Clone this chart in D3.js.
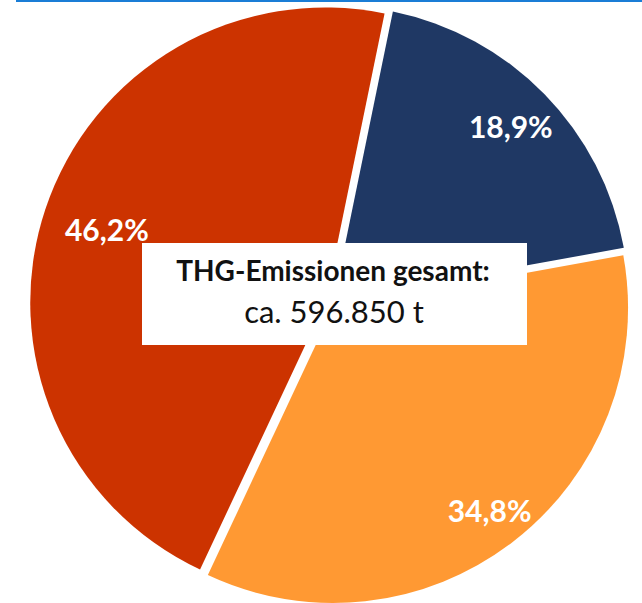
<!DOCTYPE html>
<html>
<head>
<meta charset="utf-8">
<script src="https://cdn.jsdelivr.net/npm/d3@7"></script>
<style>
  body { margin: 0; background: #fff; }
  svg { display: block; }
</style>
</head>
<body>
<svg id="chart" width="642" height="603"></svg>
<script>
// data
var categories = ["Sektor 1", "Sektor 2", "Sektor 3"];
var shares = [18.9, 34.8, 46.2];
var shareLabels = ["18,9%", "34,8%", "46,2%"];
var colors = ["#1f3864", "#ff9933", "#cc3300"];
var totalLines = ["THG-Emissionen gesamt:", "ca. 596.850 t"];

var svg = d3.select("#chart");
var cx = 330, cy = 304, radius = 295, explode = 5;
var labelRadius = [0.84, 0.87, 0.78];

// thin blue rule along the top
svg.append("rect")
    .attr("x", 16).attr("y", 0)
    .attr("width", 626).attr("height", 2)
    .attr("fill", "#1a7dd6");

var pie = d3.pie()
    .sort(null)
    .value(function(d) { return d.value; })
    .startAngle(11.6 * Math.PI / 180)
    .endAngle(11.6 * Math.PI / 180 + 2 * Math.PI);

var arc = d3.arc().innerRadius(0).outerRadius(radius);

var data = categories.map(function(c, i) {
    return { name: c, value: shares[i], label: shareLabels[i], color: colors[i], lr: labelRadius[i] };
});

var g = svg.append("g").attr("transform", "translate(" + cx + "," + cy + ")");

var slices = g.selectAll("g.slice")
    .data(pie(data))
    .enter().append("g")
    .attr("class", "slice")
    .attr("transform", function(d) {
        var mid = (d.startAngle + d.endAngle) / 2;
        return "translate(" + (explode * Math.sin(mid)) + "," + (-explode * Math.cos(mid)) + ")";
    });

slices.append("path")
    .attr("d", arc)
    .attr("fill", function(d) { return d.data.color; });

slices.append("text")
    .attr("transform", function(d) {
        var mid = (d.startAngle + d.endAngle) / 2;
        var r = radius * d.data.lr;
        return "translate(" + (r * Math.sin(mid)) + "," + (-r * Math.cos(mid)) + ")";
    })
    .attr("text-anchor", "middle")
    .attr("dy", "0.36em")
    .attr("fill", "#fff")
    .style("font-family", "Lato, 'Open Sans', sans-serif")
    .style("font-weight", "bold")
    .style("font-size", "30px")
    .text(function(d) { return d.data.label; });

// total annotation box
var box = svg.append("g");
box.append("rect")
    .attr("x", 142).attr("y", 243)
    .attr("width", 385).attr("height", 102)
    .attr("fill", "#fff");

box.append("text")
    .attr("x", 333).attr("y", 281)
    .attr("text-anchor", "middle")
    .style("font-family", "Lato, 'Open Sans', sans-serif")
    .style("font-weight", "bold")
    .style("font-size", "28px")
    .attr("fill", "#111")
    .text(totalLines[0]);

box.append("text")
    .attr("x", 334).attr("y", 323)
    .attr("text-anchor", "middle")
    .style("font-family", "Lato, 'Open Sans', sans-serif")
    .style("font-weight", "normal")
    .style("font-size", "31px")
    .attr("fill", "#111")
    .text(totalLines[1]);
</script>
</body>
</html>
